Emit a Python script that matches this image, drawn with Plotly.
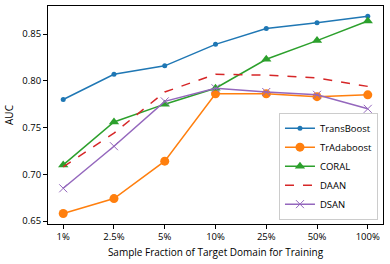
import plotly.graph_objects as go

categories = ["1%", "2.5%", "5%", "10%", "25%", "50%", "100%"]
transboost = [0.780, 0.807, 0.816, 0.839, 0.856, 0.862, 0.869]
tradaboost = [0.658, 0.674, 0.714, 0.786, 0.786, 0.783, 0.785]
coral = [0.710, 0.756, 0.775, 0.792, 0.823, 0.843, 0.864]
daan = [0.708, 0.744, 0.788, 0.807, 0.806, 0.803, 0.794]
dsan = [0.685, 0.730, 0.778, 0.792, 0.788, 0.785, 0.770]
y_ticks = [0.65, 0.70, 0.75, 0.80, 0.85]

FONT = "Open Sans"
xs = list(range(len(categories)))

fig = go.Figure()
fig.add_trace(go.Scatter(x=xs, y=transboost, name="TransBoost", mode="lines+markers",
                         line=dict(color="#1f77b4", width=1.5),
                         marker=dict(symbol="circle", size=5, color="#1f77b4")))
fig.add_trace(go.Scatter(x=xs, y=tradaboost, name="TrAdaboost", mode="lines+markers",
                         line=dict(color="#ff7f0e", width=1.5),
                         marker=dict(symbol="circle", size=9, color="#ff7f0e")))
fig.add_trace(go.Scatter(x=xs, y=coral, name="CORAL", mode="lines+markers",
                         line=dict(color="#2ca02c", width=1.5),
                         marker=dict(symbol="triangle-up", size=9, color="#2ca02c")))
fig.add_trace(go.Scatter(x=xs, y=daan, name="DAAN", mode="lines",
                         line=dict(color="#d62728", width=1.5, dash="dash")))
fig.add_trace(go.Scatter(x=xs, y=dsan, name="DSAN", mode="lines+markers",
                         line=dict(color="#9467bd", width=1.5),
                         marker=dict(symbol="x-thin", size=8, color="#9467bd",
                                     line=dict(color="#9467bd", width=1))))

fig.update_layout(
    width=390, height=264,
    margin=dict(l=48, r=7, t=6, b=40),
    paper_bgcolor="white", plot_bgcolor="white",
    font=dict(family=FONT, size=10, color="black"),
    showlegend=True,
    legend=dict(x=0.985, y=0.02, xanchor="right", yanchor="bottom",
                bordercolor="#cccccc", borderwidth=1, bgcolor="rgba(255,255,255,0.8)",
                font=dict(family=FONT, size=9.5), tracegroupgap=0, itemwidth=30),
)
fig.update_xaxes(range=[-0.3, 6.3], tickmode="array", tickvals=xs, ticktext=categories,
                 showline=True, linecolor="black", linewidth=1, mirror=True,
                 ticks="outside", ticklen=4, tickcolor="black", showgrid=False, zeroline=False,
                 title=dict(text="Sample Fraction of Target Domain for Training", standoff=6,
                            font=dict(family=FONT, size=10)),
                 tickfont=dict(family=FONT, size=9.5))
fig.update_yaxes(range=[0.6468, 0.880], tickmode="array", tickvals=y_ticks,
                 ticktext=[f"{v:.2f}" for v in y_ticks],
                 showline=True, linecolor="black", linewidth=1, mirror=True,
                 ticks="outside", ticklen=4, tickcolor="black", showgrid=False, zeroline=False,
                 title=dict(text="AUC", standoff=6, font=dict(family=FONT, size=10)),
                 tickfont=dict(family=FONT, size=9.5))

fig.write_html("out.html", config={"displayModeBar": False},
               post_script="document.body.style.margin='0';")
